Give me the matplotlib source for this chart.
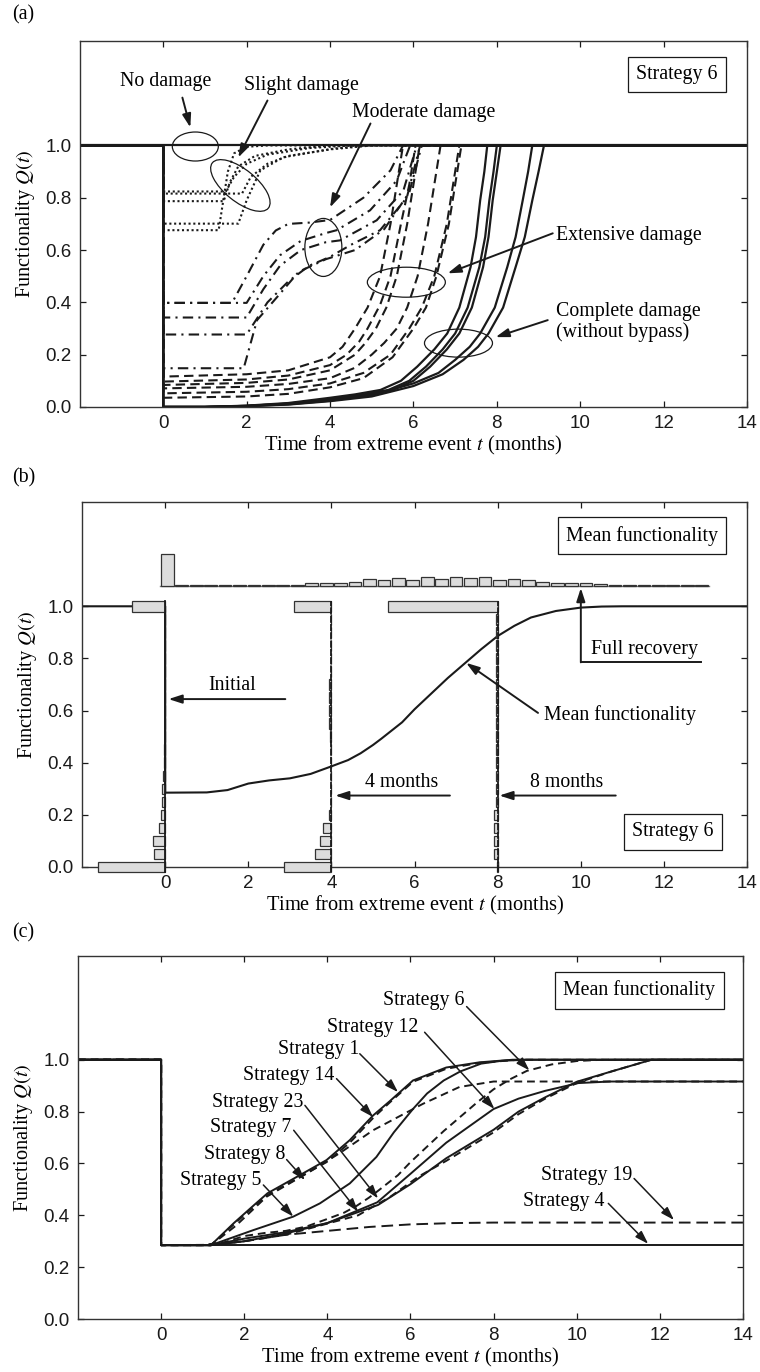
import numpy as np
import matplotlib
matplotlib.use("Agg")
import matplotlib.pyplot as plt
from matplotlib.patches import Ellipse
from matplotlib.transforms import ScaledTranslation

plt.rcParams["font.family"] = ["Liberation Serif", "DejaVu Serif"]
plt.rcParams["mathtext.fontset"] = "stix"

T_MIN, T_MAX = -2, 14
Q_FULL = 1.0

# ---------------- (a) recovery paths by damage state (strategy 6) ----------------
slight_t = [[0, 1.33, 1.45, 1.55, 1.7, 2.0, 2.5],
            [0, 1.45, 1.6, 1.8, 2.2, 3.0, 4.0],
            [0, 1.5, 1.7, 2.0, 2.5, 3.5, 4.5],
            [0, 1.89, 2.1, 2.5, 3.0, 4.0, 5.0],
            [0, 1.8, 2.0, 2.33, 2.88, 4.08, 4.9]]
slight_q = [[0.676, 0.676, 0.80, 0.90, 0.97, 0.995, 1.0],
            [0.787, 0.787, 0.86, 0.92, 0.96, 0.985, 1.0],
            [0.824, 0.824, 0.88, 0.93, 0.965, 0.99, 1.0],
            [0.816, 0.816, 0.88, 0.93, 0.96, 0.985, 1.0],
            [0.701, 0.701, 0.79, 0.905, 0.955, 0.988, 1.0]]

moderate_t = [[0, 1.65, 2.0, 2.4, 2.7, 3.0, 3.5, 4.0, 4.8, 5.45, 5.75],
              [0, 2.0, 2.4, 2.8, 3.3, 3.9, 4.16, 4.96, 5.6, 5.92],
              [0, 2.0, 2.4, 2.8, 3.3, 3.9, 4.24, 5.12, 5.76, 6.08],
              [0, 2.0, 2.5, 3.0, 3.5, 4.0, 4.5, 5.2, 5.84, 6.16],
              [0, 1.93, 2.25, 2.73, 3.25, 3.9, 4.6, 5.3, 5.9, 6.2]]
moderate_q = [[0.398, 0.398, 0.50, 0.62, 0.675, 0.70, 0.705, 0.715, 0.80, 0.905, 1.0],
              [0.398, 0.398, 0.50, 0.58, 0.635, 0.665, 0.676, 0.752, 0.866, 1.0],
              [0.342, 0.342, 0.45, 0.54, 0.60, 0.63, 0.637, 0.714, 0.828, 1.0],
              [0.277, 0.277, 0.40, 0.48, 0.54, 0.574, 0.62, 0.676, 0.80, 1.0],
              [0.148, 0.148, 0.332, 0.42, 0.517, 0.565, 0.60, 0.68, 0.82, 1.0]]

extensive_t = [[0, 2, 3, 4, 4.3, 4.6, 4.9, 5.2, 5.45, 5.6, 5.75],
               [0, 2, 3, 4, 4.4, 4.7, 4.9, 5.2, 5.45, 5.7, 5.9, 6.05],
               [0, 2, 3, 4, 4.6, 4.85, 5.1, 5.35, 5.6, 5.85, 6.0, 6.15],
               [0, 2, 3, 4, 4.6, 5.0, 5.3, 5.6, 5.85, 6.1, 6.35, 6.5, 6.65],
               [0, 2, 3, 4, 4.8, 5.45, 5.9, 6.2, 6.5, 6.8, 6.95, 7.1],
               [0, 2, 3, 4, 4.8, 5.5, 6.0, 6.3, 6.55, 6.85, 7.0, 7.15]]
extensive_q = [[0.116, 0.125, 0.14, 0.19, 0.23, 0.30, 0.38, 0.50, 0.70, 0.85, 1.0],
               [0.097, 0.105, 0.12, 0.16, 0.20, 0.25, 0.30, 0.39, 0.50, 0.70, 0.85, 1.0],
               [0.084, 0.092, 0.105, 0.14, 0.20, 0.245, 0.30, 0.38, 0.50, 0.70, 0.85, 1.0],
               [0.071, 0.077, 0.088, 0.11, 0.15, 0.20, 0.245, 0.30, 0.38, 0.50, 0.70, 0.85, 1.0],
               [0.052, 0.058, 0.068, 0.09, 0.13, 0.20, 0.30, 0.38, 0.50, 0.70, 0.85, 1.0],
               [0.035, 0.04, 0.05, 0.075, 0.11, 0.19, 0.30, 0.38, 0.50, 0.70, 0.85, 1.0]]

complete_t = [[0, 1, 2, 3, 4, 4.6, 5.21, 5.7, 6.09, 6.5, 6.81, 7.1, 7.37, 7.5, 7.6, 7.7, 7.77],
              [0, 1, 2, 3, 4, 4.7, 5.4, 5.9, 6.3, 6.7, 7.0, 7.3, 7.58, 7.72, 7.82, 7.92, 8.0],
              [0, 1, 2, 3, 4, 4.8, 5.5, 6.0, 6.4, 6.8, 7.1, 7.4, 7.67, 7.8, 7.9, 8.0, 8.09],
              [0, 1, 2, 3, 4, 5, 6, 6.6, 7.0, 7.35, 7.6, 7.95, 8.25, 8.45, 8.62, 8.75, 8.85],
              [0, 1, 2, 3, 4, 5, 6, 6.7, 7.2, 7.55, 7.8, 8.15, 8.45, 8.67, 8.85, 9.0, 9.13]]
complete_q = [[0, 0, 0.005, 0.015, 0.035, 0.048, 0.065, 0.10, 0.154, 0.22, 0.281, 0.38, 0.535, 0.65, 0.79, 0.90, 1.0],
              [0, 0, 0.004, 0.013, 0.03, 0.045, 0.065, 0.10, 0.154, 0.22, 0.281, 0.38, 0.535, 0.65, 0.79, 0.90, 1.0],
              [0, 0, 0.004, 0.012, 0.028, 0.043, 0.065, 0.10, 0.154, 0.22, 0.281, 0.38, 0.535, 0.65, 0.79, 0.90, 1.0],
              [0, 0, 0.003, 0.01, 0.024, 0.045, 0.09, 0.13, 0.18, 0.23, 0.281, 0.38, 0.535, 0.65, 0.79, 0.90, 1.0],
              [0, 0, 0.003, 0.009, 0.022, 0.04, 0.08, 0.125, 0.18, 0.23, 0.281, 0.38, 0.535, 0.65, 0.79, 0.90, 1.0]]

# ---------------- (b) mean functionality and distributions ----------------
mean_t = [0, 1, 1.5, 2, 2.5, 3, 3.5, 4, 4.4, 4.7, 5.0, 5.2, 5.7, 6.0, 6.4, 6.8, 7.2,
          7.6, 8, 8.4, 8.8, 9.4, 10, 10.5, 11]
mean_q = [0.285, 0.286, 0.295, 0.32, 0.332, 0.34, 0.357, 0.386, 0.41, 0.436, 0.468, 0.492,
          0.555, 0.605, 0.665, 0.725, 0.78, 0.835, 0.886, 0.925, 0.957, 0.982, 0.995, 0.999, 1.0]

hist_times = [0, 4, 8]
hist_q_bins = [0.0, 0.05, 0.1, 0.15, 0.2, 0.25, 0.3, 0.35, 0.4, 0.45, 0.5,
               0.55, 0.6, 0.65, 0.7, 0.75, 0.8, 0.85, 0.9, 0.95, 1.0]
hist_len_t0 = [1.62, 0.27, 0.30, 0.14, 0.09, 0.07, 0.07, 0.05, 0.03, 0.02, 0,
               0, 0, 0, 0, 0, 0, 0, 0, 0, 0.80]
hist_len_t4 = [1.14, 0.40, 0.28, 0.20, 0.06, 0.02, 0.02, 0.02, 0.02, 0.02, 0.03,
               0.07, 0.07, 0.07, 0.06, 0.02, 0.01, 0.01, 0.01, 0.01, 0.90]
hist_len_t8 = [0.01, 0.10, 0.10, 0.10, 0.10, 0.04, 0.04, 0.04, 0.04, 0.04, 0.04,
               0.04, 0.04, 0.04, 0.05, 0.05, 0.05, 0.04, 0.04, 0.04, 2.64]

# recovery-time histogram drawn above the plot
rt_first, rt_width = 0.05, 0.3475
rt_heights = [0.12, 0.002, 0.002, 0.002, 0.002, 0.003, 0.003, 0.003, 0.003, 0.004,
              0.009, 0.009, 0.012, 0.015, 0.024, 0.022, 0.031, 0.022, 0.035, 0.024,
              0.035, 0.028, 0.035, 0.022, 0.027, 0.022, 0.015, 0.012, 0.012, 0.009,
              0.006, 0.004, 0.004, 0.003, 0.003, 0.003, 0.003, 0.003]
rt_base = 1.079

# ---------------- (c) mean functionality for strategies ----------------
strat = {
    "1":  ([0, 1.2, 1.75, 2.24, 2.56, 3.34, 3.98, 4.54, 5.1, 5.5, 6.06, 6.86, 7.66, 8.46],
           [0.285, 0.285, 0.37, 0.44, 0.485, 0.555, 0.613, 0.69, 0.785, 0.84, 0.92, 0.97, 0.99, 1.0], "-"),
    "14": ([0, 1.2, 1.75, 2.24, 2.56, 3.34, 3.98, 4.54, 5.1, 5.5, 6.06, 6.86, 7.66, 8.6],
           [0.285, 0.285, 0.365, 0.435, 0.478, 0.548, 0.605, 0.68, 0.775, 0.835, 0.915, 0.965, 0.988, 1.0], "--"),
    "8":  ([0, 1.2, 1.8, 2.54, 3.5, 4.3, 5.1, 6.3, 7.18, 8.0],
           [0.285, 0.285, 0.36, 0.472, 0.561, 0.64, 0.728, 0.83, 0.895, 0.916], "--"),
    "5":  ([0, 1.2, 2.22, 3.18, 3.82, 4.54, 5.18, 5.6, 6.06, 6.4, 6.8, 7.2, 7.7, 8.2, 8.8],
           [0.285, 0.285, 0.343, 0.395, 0.446, 0.523, 0.625, 0.72, 0.81, 0.87, 0.92, 0.955, 0.985, 0.996, 1.0], "-"),
    "6":  (mean_t, mean_q, "--"),
    "12": ([0, 1.2, 2, 3, 4, 5.2, 6.0, 6.86, 8.0, 8.6, 9.24, 10.04, 10.8],
           [0.285, 0.285, 0.31, 0.335, 0.37, 0.45, 0.56, 0.68, 0.81, 0.85, 0.88, 0.91, 0.916], "-"),
    "23": ([0, 1.2, 2, 3, 4, 5.22, 6.0, 6.86, 8.0, 8.6, 9.24, 10.0, 10.84, 11.8],
           [0.285, 0.285, 0.30, 0.33, 0.37, 0.44, 0.52, 0.62, 0.73, 0.80, 0.855, 0.915, 0.955, 1.0], "-"),
    "7":  ([0, 1.2, 2, 3, 4.74, 5.5, 6.2, 6.86, 8.0, 8.6, 9.24, 10.0, 10.84, 11.8],
           [0.285, 0.285, 0.30, 0.325, 0.40, 0.47, 0.55, 0.61, 0.72, 0.79, 0.85, 0.91, 0.955, 1.0], "--"),
    "19": ([0, 1.2, 2, 3, 4, 5, 6, 7, 8],
           [0.285, 0.285, 0.30, 0.325, 0.34, 0.355, 0.365, 0.37, 0.372], "--"),
    "4":  ([0], [0.285], "-"),
}

# ---------------- figure ----------------
fig = plt.figure(figsize=(7.6, 13.72), dpi=100)
ax_a = fig.add_axes([0.105, 0.7034, 0.878, 0.2668])
ax_b = fig.add_axes([0.108, 0.3681, 0.875, 0.2660])
ax_c = fig.add_axes([0.1026, 0.0386, 0.875, 0.2646])

INK = "#1a1a1a"
FS = 14.3


def style(ax):
    ax.set_xlim(T_MIN, T_MAX)
    ax.set_ylim(0, 1.4)
    ax.set_xticks(range(0, 15, 2))
    ax.set_yticks([0, 0.2, 0.4, 0.6, 0.8, 1.0])
    ax.set_yticklabels(["0.0", "0.2", "0.4", "0.6", "0.8", "1.0"])
    ax.tick_params(direction="in", top=True, right=True, length=4, width=0.9,
                   labelsize=13.5, labelfontfamily="Liberation Sans", colors=INK, pad=6)
    for s in ax.spines.values():
        s.set_linewidth(1.0)
        s.set_color("#333333")
    ax.set_xlabel("Time from extreme event $t$ (months)", fontsize=FS + 0.4, labelpad=1)
    ax.set_ylabel("Functionality $Q(t)$", fontsize=FS + 0.4, labelpad=6)


def path(t, q):
    # curve preceded by full functionality before the event and held to the end
    tt = [T_MIN, t[0]] + list(t) + [T_MAX]
    qq = [Q_FULL, Q_FULL] + list(q) + [q[-1]]
    return tt, qq


def ring(ax, t, q, w_px, h_px, angle=0):
    tr = fig.dpi_scale_trans + ScaledTranslation(t, q, ax.transData)
    ax.add_patch(Ellipse((0, 0), w_px / 100, h_px / 100, angle=angle, transform=tr,
                         fill=False, lw=0.9, ec=INK))


def arrow(ax, xy_from, xy_to, lw=1.4, hl=8, hw=2.6):
    ax.annotate("", xy=xy_to, xytext=xy_from,
                arrowprops=dict(arrowstyle=f"-|>,head_length={hl / 10},head_width={hw / 10}",
                                mutation_scale=10, color=INK, lw=lw, shrinkA=0, shrinkB=0))


def boxed(ax, t, q, txt):
    ax.text(t, q, txt, ha="center", va="center", fontsize=FS,
            bbox=dict(boxstyle="square,pad=0.42", fc="white", ec=INK, lw=0.9))


# ----- panel (a)
ax = ax_a
style(ax)
ax.plot([T_MIN, T_MAX], [Q_FULL, Q_FULL], color=INK, lw=1.6)
for t, q in zip(complete_t, complete_q):
    ax.plot(*path(t, q), color=INK, lw=1.6, ls="-")
for t, q in zip(extensive_t, extensive_q):
    ax.plot(*path(t, q), color=INK, lw=1.5, ls=(0, (4.5, 2.5)))
for t, q in zip(moderate_t, moderate_q):
    ax.plot(*path(t, q), color=INK, lw=1.5, ls=(0, (5, 2.5, 1, 2.5)))
for t, q in zip(slight_t, slight_q):
    ax.plot(*path(t, q), color=INK, lw=1.5, ls=(0, (1, 1.3)))

ax.text(0.07, 1.244, "No damage", ha="center", va="center", fontsize=FS)
arrow(ax, (0.46, 1.183), (0.65, 1.069))
ring(ax, 0.77, 0.996, 46, 29)
ax.text(3.31, 1.229, "Slight damage", ha="center", va="center", fontsize=FS)
arrow(ax, (2.5, 1.172), (1.8, 0.954))
ring(ax, 1.85, 0.847, 72, 32, angle=-39)
ax.text(6.24, 1.126, "Moderate damage", ha="center", va="center", fontsize=FS)
arrow(ax, (4.97, 1.084), (4.0, 0.763))
ring(ax, 3.84, 0.61, 37, 58)
ax.text(9.43, 0.656, "Extensive damage", ha="left", va="center", fontsize=FS)
arrow(ax, (9.34, 0.664), (6.82, 0.511))
ring(ax, 5.83, 0.477, 78, 30)
ax.text(9.43, 0.324, "Complete damage\n(without bypass)", ha="left", va="center",
        fontsize=FS, linespacing=1.05)
arrow(ax, (9.22, 0.332), (7.97, 0.267))
ring(ax, 7.08, 0.244, 68, 28)
boxed(ax, 12.31, 1.271, "Strategy 6")

# ----- panel (b)
ax = ax_b
style(ax)
ax.plot(*path(mean_t, mean_q), color=INK, lw=1.5)
bar_h = 0.04
for tm, lens in zip(hist_times, [hist_len_t0, hist_len_t4, hist_len_t8]):
    lens = np.array(lens)
    ax.barh(hist_q_bins, lens, left=tm - lens, height=bar_h, color="#dcdcdc",
            edgecolor="#333333", lw=0.9, zorder=3, clip_on=False)
    ax.plot([tm, tm], [hist_q_bins[0] - bar_h / 2, hist_q_bins[-1] + bar_h / 2],
            color=INK, lw=1.3, ls=(0, (4, 0.6)) if tm else "-", zorder=4, clip_on=False)
rt_centers = rt_first + rt_width * np.arange(len(rt_heights))
ax.plot([rt_centers[0] - rt_width / 2, rt_centers[-1] + rt_width / 2], [rt_base, rt_base],
        color="#777777", lw=1.0, zorder=2)
ax.bar(rt_centers, rt_heights, width=rt_width * 0.88, bottom=rt_base, color="#dcdcdc",
       edgecolor="#333333", lw=0.9, zorder=3)

ax.text(1.6, 0.696, "Initial", ha="center", va="center", fontsize=FS)
arrow(ax, (2.89, 0.644), (0.08, 0.644))
ax.text(5.68, 0.323, "4 months", ha="center", va="center", fontsize=FS)
arrow(ax, (6.85, 0.274), (4.09, 0.274))
ax.text(9.66, 0.325, "8 months", ha="center", va="center", fontsize=FS)
arrow(ax, (10.84, 0.274), (8.04, 0.274))
ax.text(10.94, 0.584, "Mean functionality", ha="center", va="center", fontsize=FS)
arrow(ax, (8.97, 0.591), (7.24, 0.783))
ax.text(11.54, 0.834, "Full recovery", ha="center", va="center", fontsize=FS)
ax.plot([12.9, 10.0], [0.785, 0.785], color=INK, lw=1.4)
arrow(ax, (10.0, 0.785), (10.0, 1.07))
boxed(ax, 11.47, 1.271, "Mean functionality")
boxed(ax, 12.21, 0.135, "Strategy 6")

# ----- panel (c)
ax = ax_c
style(ax)
for name, (t, q, ls) in strat.items():
    dash = (0, (6, 3)) if name == "19" else (0, (4, 2.5))
    ax.plot(*path(t, q), color=INK, lw=1.4, ls="-" if ls == "-" else dash)

labels_c = [
    ("Strategy 6", (6.31, 1.228), (7.35, 1.205), (8.86, 0.959)),
    ("Strategy 12", (5.10, 1.124), (6.34, 1.106), (8.02, 0.81)),
    ("Strategy 1", (3.79, 1.038), (4.78, 1.023), (5.70, 0.875)),
    ("Strategy 14", (3.07, 0.940), (4.22, 0.927), (5.10, 0.779)),
    ("Strategy 23", (2.32, 0.837), (3.46, 0.824), (5.22, 0.465)),
    ("Strategy 7", (2.16, 0.738), (3.19, 0.728), (4.74, 0.414)),
    ("Strategy 8", (2.02, 0.636), (3.02, 0.615), (3.46, 0.536)),
    ("Strategy 5", (1.44, 0.536), (2.46, 0.517), (3.18, 0.395)),
    ("Strategy 19", (10.24, 0.555), (11.38, 0.542), (12.34, 0.382)),
    ("Strategy 4", (9.68, 0.452), (10.76, 0.446), (11.72, 0.29)),
]
for txt, pos, a0, a1 in labels_c:
    ax.text(*pos, txt, ha="center", va="center", fontsize=FS)
    arrow(ax, a0, a1, lw=1.1)
boxed(ax, 11.51, 1.268, "Mean functionality")

for lab, y in [("(a)", 15), ("(b)", 478), ("(c)", 933)]:
    fig.text(12 / 760, 1 - y / 1372, lab, ha="left", va="center", fontsize=FS)

fig.savefig("out.png", dpi=100)
